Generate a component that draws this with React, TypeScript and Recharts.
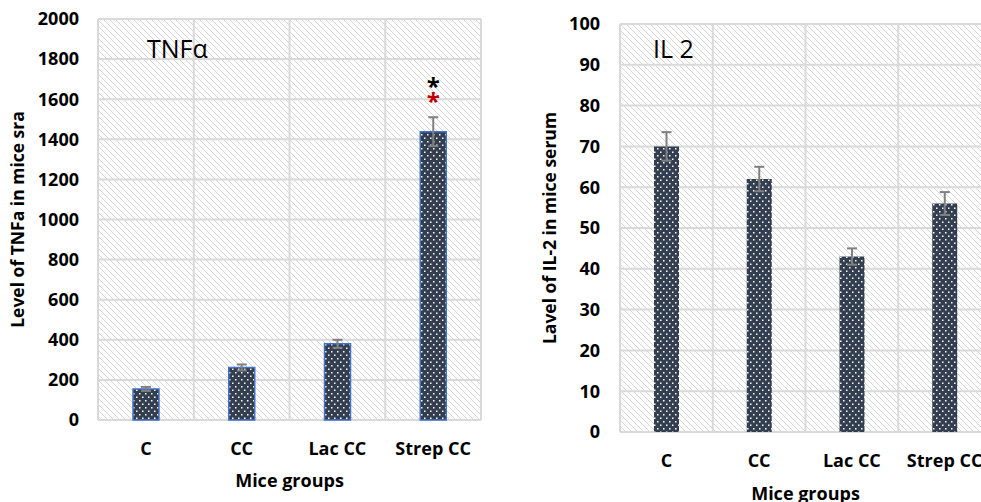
import { BarChart, Bar, XAxis, YAxis, CartesianGrid, ErrorBar, LabelList } from 'recharts';

const groups = ['C', 'CC', 'Lac CC', 'Strep CC'];

const tnfValues = [155, 262, 380, 1438];
const tnfErrors = [10, 15, 20, 72];
const tnfSig = ['', '', '', '*'];
const tnfTicks = [0, 200, 400, 600, 800, 1000, 1200, 1400, 1600, 1800, 2000];

const il2Values = [70, 62, 43, 56];
const il2Errors = [3.5, 3, 2, 2.8];
const il2Ticks = [0, 10, 20, 30, 40, 50, 60, 70, 80, 90, 100];

const tnfData = groups.map((name, i) => ({
  name,
  value: tnfValues[i],
  err: tnfErrors[i],
  sig: tnfSig[i],
}));

const il2Data = groups.map((name, i) => ({
  name,
  value: il2Values[i],
  err: il2Errors[i],
}));

const font = '"Open Sans", sans-serif';
const tickStyle = { fontFamily: font, fontWeight: 700, fontSize: 18, fill: '#000' };
const axisLabelStyle = { fontFamily: font, fontWeight: 700, fontSize: 17.5, fill: '#000' };

// grid lines sit on the category boundaries, not on the centers
const boundaryLines = ({ offset }: any) =>
  groups.map((_, i) => offset.left + (i * offset.width) / groups.length).concat(offset.left + offset.width);

const Patterns = ({ id }: { id: string }) => (
  <defs>
    <pattern id={`hatch-${id}`} width="6" height="6" patternUnits="userSpaceOnUse">
      <rect width="6" height="6" fill="#fff" />
      <path d="M0,0 L6,6 M-1,5 L1,7 M5,-1 L7,1" stroke="#d4d4d4" strokeWidth="1" />
    </pattern>
    <pattern id={`dots-${id}`} width="6" height="7" patternUnits="userSpaceOnUse">
      <rect width="6" height="7" fill="#333f50" />
      <rect x="1" y="1" width="1.5" height="1.5" fill="#fff" />
      <rect x="4" y="4.5" width="1.5" height="1.5" fill="#fff" />
    </pattern>
  </defs>
);

const Stars = (props: any) => {
  const { x, y, width, value } = props;
  if (!value) return null;
  const cx = x + width / 2;
  return (
    <g style={{ fontFamily: font, fontWeight: 700, fontSize: 24 }}>
      <text x={cx} y={y - 37} textAnchor="middle" fill="#000">*</text>
      <text x={cx} y={y - 22} textAnchor="middle" fill="#c00000">*</text>
    </g>
  );
};

const TnfChart = () => (
  <BarChart width={500} height={502} data={tnfData} margin={{ top: 19, right: 19, left: 0, bottom: 12 }}>
    <Patterns id="tnf" />
    <CartesianGrid
      stroke="#d9d9d9"
      strokeWidth={2}
      fill="url(#hatch-tnf)"
      fillOpacity={1}
      verticalCoordinatesGenerator={boundaryLines}
    />
    <XAxis
      dataKey="name"
      height={70}
      axisLine={false}
      tickLine={false}
      tickSize={0}
      tickMargin={22}
      tick={tickStyle}
      interval={0}
      label={{ value: 'Mice groups', position: 'insideBottom', offset: 3, style: { ...axisLabelStyle, fontSize: 18 } }}
    />
    <YAxis
      width={98}
      domain={[0, 2000]}
      ticks={tnfTicks}
      interval={0}
      axisLine={false}
      tickLine={false}
      tickSize={0}
      tickMargin={19}
      tick={tickStyle}
      label={{
        value: 'Level of TNFa in mice sra',
        angle: -90,
        position: 'insideLeft',
        offset: 18,
        style: { ...axisLabelStyle, textAnchor: 'middle' },
      }}
    />
    <Bar dataKey="value" barSize={26} fill="url(#dots-tnf)" stroke="#4472c4" strokeWidth={1.5} isAnimationActive={false}>
      <ErrorBar dataKey="err" width={5} strokeWidth={2} stroke="#808080" direction="y" />
      <LabelList dataKey="sig" content={<Stars />} />
    </Bar>
    <text x={147} y={58} style={{ fontFamily: font, fontSize: 25, fill: '#000' }}>TNFα</text>
  </BarChart>
);

const Il2Chart = () => (
  <BarChart width={501} height={502} data={il2Data} margin={{ top: 24, right: 10, left: 0, bottom: 0 }}>
    <Patterns id="il2" />
    <CartesianGrid
      stroke="#d9d9d9"
      strokeWidth={2}
      fill="url(#hatch-il2)"
      fillOpacity={1}
      verticalCoordinatesGenerator={boundaryLines}
    />
    <XAxis
      dataKey="name"
      height={70}
      axisLine={false}
      tickLine={false}
      tickSize={0}
      tickMargin={22}
      tick={tickStyle}
      interval={0}
      label={{ value: 'Mice groups', position: 'insideBottom', offset: 2, style: { ...axisLabelStyle, fontSize: 18 } }}
    />
    <YAxis
      width={120}
      domain={[0, 100]}
      ticks={il2Ticks}
      interval={0}
      axisLine={false}
      tickLine={false}
      tickSize={0}
      tickMargin={20}
      tick={tickStyle}
      label={{
        value: 'Lavel of IL-2 in mice serum',
        angle: -90,
        position: 'insideLeft',
        offset: 50,
        style: { ...axisLabelStyle, textAnchor: 'middle' },
      }}
    />
    <Bar dataKey="value" barSize={25} fill="url(#dots-il2)" isAnimationActive={false}>
      <ErrorBar dataKey="err" width={5} strokeWidth={2} stroke="#808080" direction="y" />
    </Bar>
    <text x={153} y={58} style={{ fontFamily: font, fontSize: 25, fill: '#000' }}>IL 2</text>
  </BarChart>
);

export default function App() {
  return (
    <div style={{ position: 'absolute', left: 0, top: 0, width: 981, height: 502, overflow: 'hidden', background: '#fff' }}>
      <div style={{ position: 'absolute', left: 0, top: 0 }}>
        <TnfChart />
      </div>
      <div style={{ position: 'absolute', left: 500, top: 0 }}>
        <Il2Chart />
      </div>
    </div>
  );
}
